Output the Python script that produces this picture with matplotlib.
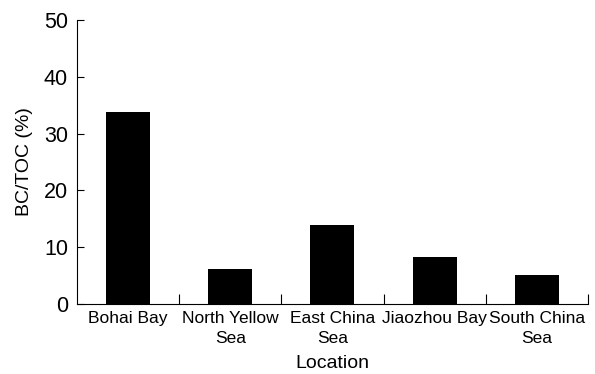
import numpy as np
import matplotlib.pyplot as plt

plt.rcParams['font.family'] = ['Liberation Sans', 'DejaVu Sans']

locations = ["Bohai Bay", "North Yellow\nSea", "East China\nSea", "Jiaozhou Bay", "South China\nSea"]
bc_toc = [33.8, 6.2, 14.0, 8.3, 5.1]

fig = plt.figure(figsize=(5.95, 3.74), dpi=100)
ax = fig.add_axes([0.1294, 0.187, 0.8586, 0.7595])

pos = np.arange(len(locations)) + 0.5
ax.bar(pos, bc_toc, width=0.43, color="black")

ax.set_xlim(0, len(locations))
ax.set_ylim(0, 50)
ax.set_yticks(range(0, 51, 10))
ax.tick_params(axis="y", direction="in", length=5, labelsize=15.5, pad=6.5)

# category ticks sit on the boundaries between locations
ax.set_xticks(np.arange(1, len(locations) + 1))
ax.set_xticklabels([])
ax.set_xticks(pos, minor=True)
ax.set_xticklabels(locations, minor=True, fontsize=12.5, linespacing=1.45)
ax.tick_params(axis="x", which="major", direction="in", length=7)
ax.tick_params(axis="x", which="minor", length=0, pad=5)

ax.spines["top"].set_visible(False)
ax.spines["right"].set_visible(False)

ax.set_ylabel("BC/TOC (%)", fontsize=14, labelpad=8)
ax.set_xlabel("Location", fontsize=14, labelpad=6.5)

fig.savefig("out.png", dpi=100)
